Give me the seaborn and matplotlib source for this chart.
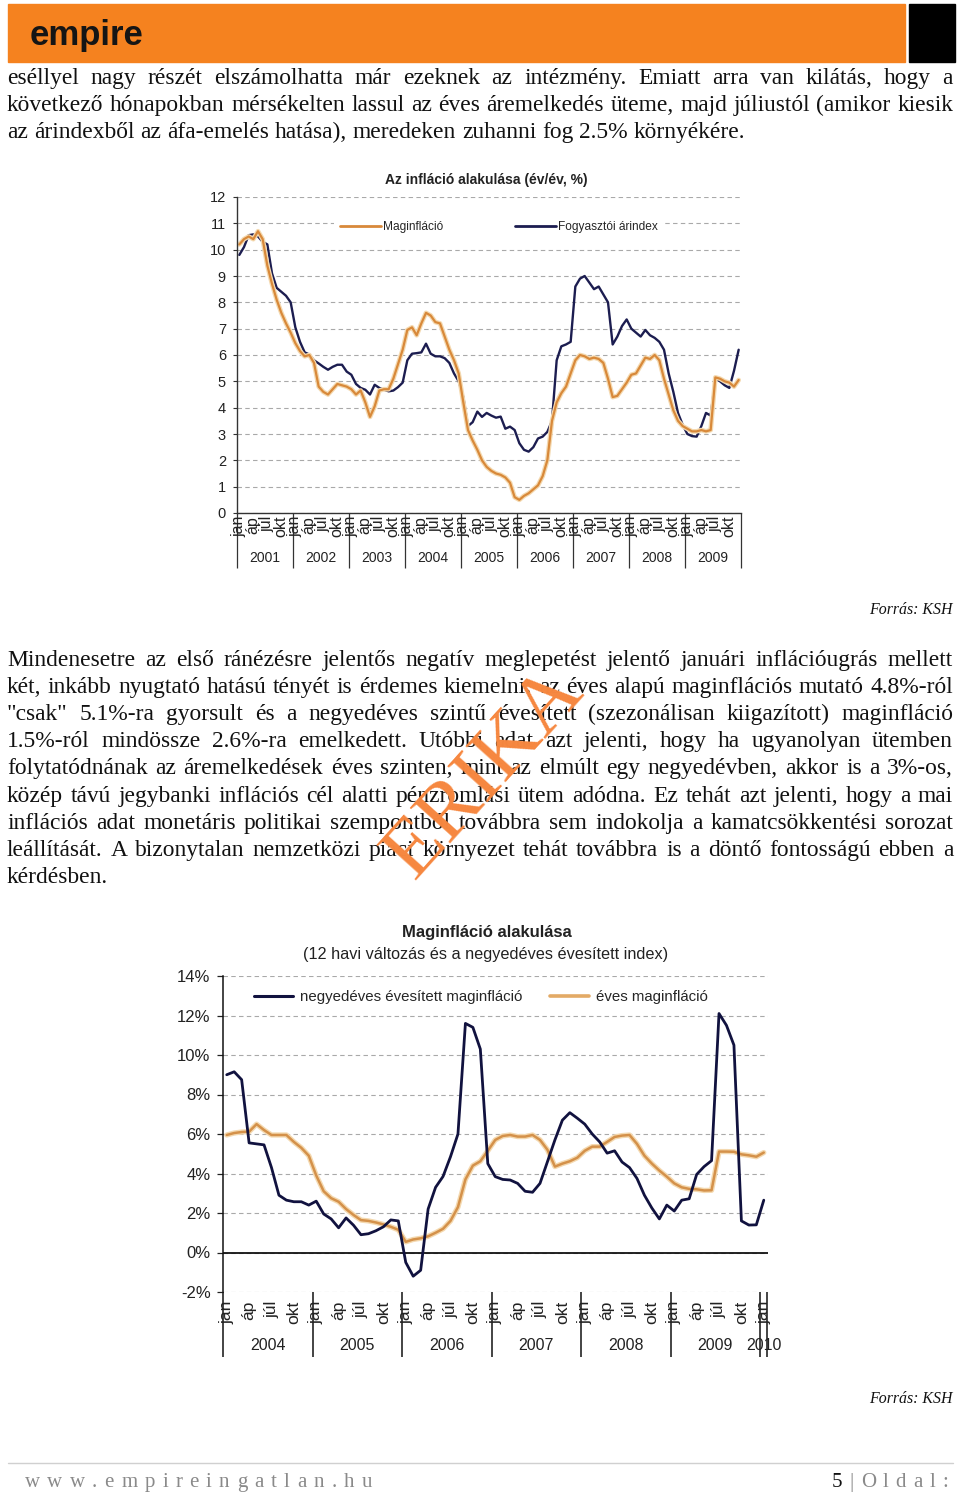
import numpy as np
import pandas as pd
import matplotlib
matplotlib.use("Agg")
import matplotlib.pyplot as plt
import matplotlib.transforms as mtransforms
from matplotlib.patches import Rectangle
from matplotlib.lines import Line2D
import seaborn as sns

# ---------------- data ----------------
month_labels = ["jan", "áp", "júl", "okt"]

top_years = [2001, 2002, 2003, 2004, 2005, 2006, 2007, 2008, 2009]
top_yticks = [0, 1, 2, 3, 4, 5, 6, 7, 8, 9, 10, 11, 12]
top_cpi = [
    9.8, 10.1, 10.55, 10.58, 10.5, 10.3, 10.2, 9.1, 8.55, 8.4, 8.25, 8.0,
    7.05, 6.5, 6.1, 6.02, 5.8, 5.68, 5.55, 5.44, 5.55, 5.63, 5.63, 5.37,
    5.25, 4.9, 4.75, 4.68, 4.5, 4.87, 4.75, 4.68, 4.62, 4.65, 4.78, 4.95,
    5.8, 6.05, 6.07, 6.1, 6.43, 6.05, 5.95, 5.95, 5.88, 5.7, 5.3, 5.0,
    4.4, 3.3, 3.45, 3.85, 3.65, 3.8, 3.7, 3.62, 3.66, 3.2, 3.28, 3.15,
    2.65, 2.4, 2.33, 2.5, 2.83, 2.9, 3.08, 3.5, 5.8, 6.33, 6.4, 6.5,
    8.6, 8.9, 9.0, 8.75, 8.5, 8.6, 8.3, 8.0, 6.4, 6.7, 7.1, 7.35,
    7.0, 6.85, 6.7, 6.95, 6.75, 6.65, 6.5, 6.2, 5.3, 4.6, 3.8, 3.35,
    3.0, 2.92, 2.9, 3.3, 3.8, 3.7, 5.1, 5.0, 4.85, 4.75, 5.4, 6.2,
]
top_core = [
    10.2, 10.4, 10.5, 10.4, 10.7, 10.4, 9.4, 8.7, 8.1, 7.6, 7.2, 6.85,
    6.45, 6.15, 5.95, 6.0, 5.7, 4.8, 4.6, 4.5, 4.7, 4.9, 4.85, 4.8,
    4.7, 4.5, 4.65, 4.2, 3.65, 4.05, 4.65, 4.7, 4.7, 5.1, 5.65, 6.2,
    6.95, 7.05, 6.75, 7.2, 7.6, 7.5, 7.25, 7.2, 6.7, 6.2, 5.8, 5.3,
    4.2, 3.15, 2.75, 2.4, 2.0, 1.75, 1.6, 1.5, 1.45, 1.35, 1.15, 0.6,
    0.5, 0.65, 0.75, 0.9, 1.05, 1.4, 2.0, 3.5, 4.2, 4.55, 4.8, 5.3,
    5.8, 6.0, 5.95, 5.85, 5.9, 5.85, 5.7, 5.1, 4.4, 4.45, 4.7, 4.95,
    5.25, 5.3, 5.6, 5.9, 5.85, 6.0, 5.8, 5.1, 4.5, 3.9, 3.5, 3.3,
    3.2, 3.1, 3.1, 3.15, 3.1, 3.15, 5.15, 5.1, 5.0, 4.95, 4.8, 5.05,
]

bot_years = [2004, 2005, 2006, 2007, 2008, 2009, 2010]
bot_yticks = [-2, 0, 2, 4, 6, 8, 10, 12, 14]
bot_ytick_labels = ["-2%", "0%", "2%", "4%", "6%", "8%", "10%", "12%", "14%"]
bot_quarterly = [
    9.0, 9.15, 8.75, 5.55, 5.5, 5.45, 4.3, 2.9, 2.65, 2.57, 2.57, 2.4,
    2.6, 1.95, 1.7, 1.25, 1.75, 1.38, 0.9, 0.95, 1.1, 1.3, 1.65, 1.6,
    -0.5, -1.2, -0.9, 2.2, 3.3, 3.85, 4.85, 6.0, 11.6, 11.4, 10.3, 4.5,
    3.84, 3.7, 3.67, 3.5, 3.1, 3.05, 3.5, 4.6, 5.7, 6.7, 7.08, 6.8,
    6.5, 6.0, 5.6, 5.03, 5.15, 4.58, 4.3, 3.75, 2.9, 2.25, 1.7, 2.4,
    2.1, 2.65, 2.72, 3.95, 4.35, 4.65, 12.1, 11.5, 10.5, 1.6, 1.39, 1.4,
    2.65,
]
bot_annual = [
    5.95, 6.05, 6.1, 6.12, 6.5, 6.2, 5.95, 5.95, 5.95, 5.6, 5.3, 4.9,
    3.9, 3.1, 2.75, 2.57, 2.2, 1.9, 1.64, 1.6, 1.52, 1.42, 1.3, 1.15,
    0.54, 0.66, 0.72, 0.82, 1.0, 1.2, 1.6, 2.3, 3.7, 4.4, 4.62, 5.15,
    5.7, 5.9, 5.95, 5.87, 5.87, 5.95, 5.7, 5.2, 4.35, 4.5, 4.62, 4.8,
    5.15, 5.36, 5.36, 5.6, 5.85, 5.92, 5.95, 5.5, 4.9, 4.5, 4.15, 3.84,
    3.5, 3.3, 3.22, 3.2, 3.14, 3.15, 5.11, 5.11, 5.1, 4.97, 4.92, 4.85,
    5.06,
]

para1 = [
    "eséllyel nagy részét elszámolhatta már ezeknek az intézmény. Emiatt arra van kilátás, hogy a",
    "következő hónapokban mérsékelten lassul az éves áremelkedés üteme, majd júliustól (amikor kiesik",
    "az árindexből az áfa-emelés hatása), meredeken zuhanni fog 2.5% környékére.",
]
para2 = [
    "Mindenesetre az első ránézésre jelentős negatív meglepetést jelentő januári inflációugrás mellett",
    "két, inkább nyugtató hatású tényét is érdemes kiemelni: az éves alapú maginflációs mutató 4.8%-ról",
    "\"csak\" 5.1%-ra gyorsult és a negyedéves szintű évesített (szezonálisan kiigazított) maginfláció",
    "1.5%-ról mindössze 2.6%-ra emelkedett. Utóbbi adat azt jelenti, hogy ha ugyanolyan ütemben",
    "folytatódnának az áremelkedések éves szinten, mint az elmúlt egy negyedévben, akkor is a 3%-os,",
    "közép távú jegybanki inflációs cél alatti pénzromlási ütem adódna. Ez tehát azt jelenti, hogy a mai",
    "inflációs adat monetáris politikai szempontból továbbra sem indokolja a kamatcsökkentési sorozat",
    "leállítását. A bizonytalan nemzetközi piaci környezet tehát továbbra is a döntő fontosságú ebben a",
    "kérdésben.",
]

# ---------------- style ----------------
sns.set_style("white")
plt.rcParams["font.family"] = ["Liberation Sans", "DejaVu Sans"]

W, H = 960, 1493
fig = plt.figure(figsize=(W / 100, H / 100), dpi=100)
renderer = fig.canvas.get_renderer()


def fx(p):
    return p / W


def fy(p):
    return 1 - p / H


SERIF = ["Liberation Serif", "DejaVu Serif"]
NAVY = "#1c1d50"
ORANGE = "#d8893a"
HALO = "#f4d9b0"
GRID = "#a9a9a9"


def place_tokens(tokens, base, x0, x1, size, justify=True, colors=None, family=SERIF, gap_px=None):
    texts = []
    widths = []
    for i, tok in enumerate(tokens):
        c = colors[i] if colors else "#111111"
        t = fig.text(0, fy(base), tok, fontsize=size, family=family, va="baseline", ha="left", color=c)
        texts.append(t)
        widths.append(t.get_window_extent(renderer).width)
    if justify and len(tokens) > 1:
        gap = (x1 - x0 - sum(widths)) / (len(tokens) - 1)
    else:
        gap = gap_px if gap_px is not None else size * 100 / 72 * 0.25
    x = x0
    for t, w in zip(texts, widths):
        t.set_x(fx(x))
        x += w + gap


# ---------------- header ----------------
fig.patches.append(Rectangle((fx(8), fy(62)), (905 - 8) / W, (62 - 4) / H,
                             transform=fig.transFigure, color="#f5821f", zorder=0))
fig.patches.append(Rectangle((fx(909), fy(62)), (955 - 909) / W, (62 - 4) / H,
                             transform=fig.transFigure, color="#000000", zorder=0))
fig.text(fx(30), fy(45), "empire", fontsize=25, fontweight="bold", color="#151515",
         va="baseline", ha="left", family=["Liberation Sans Narrow", "Liberation Sans"])

# ---------------- paragraphs ----------------
PSIZE = 16.9
for i, line in enumerate(para1):
    place_tokens(line.split(" "), 84 + 27 * i, 7, 953, PSIZE, justify=(i < len(para1) - 1))
for i, line in enumerate(para2):
    place_tokens(line.split(" "), 666 + 27.1 * i, 7, 953, PSIZE, justify=(i < len(para2) - 1))

fig.text(fx(953), fy(614), "Forrás: KSH", ha="right", va="baseline", fontsize=11.4,
         style="italic", family=SERIF, color="#111111")
fig.text(fx(953), fy(1403), "Forrás: KSH", ha="right", va="baseline", fontsize=11.4,
         style="italic", family=SERIF, color="#111111")

# ---------------- top chart ----------------
ax1 = fig.add_axes([fx(237), fy(513), (741 - 237) / W, (513 - 197) / H])
df1 = pd.DataFrame({"m": np.arange(len(top_cpi)), "cpi": top_cpi, "core": top_core})
sns.lineplot(data=df1, x="m", y="cpi", ax=ax1, color=NAVY, lw=1.7, legend=False)
sns.lineplot(data=df1, x="m", y="core", ax=ax1, color=HALO, lw=3.4, legend=False)
sns.lineplot(data=df1, x="m", y="core", ax=ax1, color=ORANGE, lw=1.6, legend=False)
ax1.set_xlim(-0.5, len(top_cpi) - 0.5)
ax1.set_ylim(0, 12)
ax1.set_yticks(top_yticks)
ax1.set_yticklabels([str(v) for v in top_yticks])
ax1.set_xlabel("")
ax1.set_ylabel("")
ax1.yaxis.grid(True, color=GRID, ls=(0, (4, 3)), lw=0.8)
ax1.xaxis.grid(False)
ax1.set_axisbelow(True)
for s in ["top", "right"]:
    ax1.spines[s].set_visible(False)
for s in ["left", "bottom"]:
    ax1.spines[s].set_color("#333333")
    ax1.spines[s].set_linewidth(1.0)
ax1.tick_params(axis="y", length=3, width=0.8, color="#333333", pad=5, labelsize=10.5,
                labelcolor="#222222", left=True)
bounds1 = list(np.arange(-0.5, len(top_cpi), 12))
ax1.set_xticks(bounds1)
ax1.set_xticklabels([""] * len(bounds1))
mpos1 = [y * 12 + k * 3 for y in range(len(top_years)) for k in range(4)]
ax1.set_xticks(mpos1, [month_labels[k] for y in range(len(top_years)) for k in range(4)], minor=True)
ax1.tick_params(axis="x", which="major", length=39.6, width=0.9, color="#333333", direction="out", bottom=True)
ax1.tick_params(axis="x", which="minor", length=0, pad=2, labelrotation=90, labelsize=11.5,
                labelcolor="#222222", bottom=True)
tr1 = mtransforms.blended_transform_factory(ax1.transData, ax1.transAxes)
for i, yr in enumerate(top_years):
    ax1.text(i * 12 + 5.5, -0.142, str(yr), transform=tr1, ha="center", va="center",
             fontsize=10, color="#222222")
h_core = Line2D([], [], color=ORANGE, lw=2)
h_cpi = Line2D([], [], color=NAVY, lw=2)
ax1.legend([h_core, h_cpi], ["Maginfláció", "Fogyasztói árindex"], loc="center",
           bbox_to_anchor=(0.52, 0.905), ncol=2, frameon=True, facecolor="white",
           edgecolor="none", framealpha=1, fontsize=8.6, handlelength=3.4,
           columnspacing=6.0, handletextpad=0.2, borderpad=0.5)
fig.text(fx(486), fy(180), "Az infláció alakulása (év/év, %)", ha="center", va="center",
         fontsize=10, fontweight="bold", color="#222222")

# ---------------- bottom chart ----------------
ax2 = fig.add_axes([fx(223), fy(1292), (767.5 - 223) / W, (1292 - 976) / H])
df2 = pd.DataFrame({"m": np.arange(len(bot_annual)), "q": bot_quarterly, "a": bot_annual})
sns.lineplot(data=df2, x="m", y="a", ax=ax2, color=HALO, lw=3.8, legend=False)
sns.lineplot(data=df2, x="m", y="a", ax=ax2, color="#d4914a", lw=1.8, legend=False)
sns.lineplot(data=df2, x="m", y="q", ax=ax2, color="#11123f", lw=2.0, legend=False)
ax2.axhline(0, color="#111111", lw=1.3, zorder=1.5)
ax2.set_xlim(-0.5, len(bot_annual) - 0.5)
ax2.set_ylim(-2, 14)
ax2.set_yticks(bot_yticks)
ax2.set_yticklabels(bot_ytick_labels)
ax2.set_xlabel("")
ax2.set_ylabel("")
ax2.yaxis.grid(True, color=GRID, ls=(0, (4, 3)), lw=0.8)
ax2.xaxis.grid(False)
ax2.set_axisbelow(True)
for s in ["top", "right", "bottom"]:
    ax2.spines[s].set_visible(False)
ax2.spines["left"].set_color("#111111")
ax2.spines["left"].set_linewidth(1.1)
ax2.tick_params(axis="y", length=4, width=0.9, color="#222222", pad=5, labelsize=12,
                labelcolor="#222222", left=True)
bounds2 = [-0.5, 11.5, 23.5, 35.5, 47.5, 59.5, 71.5, 72.5]
ax2.set_xticks(bounds2)
ax2.set_xticklabels([""] * len(bounds2))
mpos2 = [y * 12 + k * 3 for y in range(6) for k in range(4)] + [72]
mlab2 = [month_labels[k] for y in range(6) for k in range(4)] + ["jan"]
ax2.set_xticks(mpos2, mlab2, minor=True)
ax2.tick_params(axis="x", which="major", length=46.8, width=1.1, color="#111111", direction="out", bottom=True)
ax2.tick_params(axis="x", which="minor", length=0, pad=6, labelrotation=90, labelsize=12.5,
                labelcolor="#222222", bottom=True)
tr2 = mtransforms.blended_transform_factory(ax2.transData, ax2.transAxes)
for i, yr in enumerate(bot_years):
    xc = i * 12 + 5.5 if yr != 2010 else 72
    ax2.text(xc, -0.168, str(yr), transform=tr2, ha="center", va="center", fontsize=11.5,
             color="#222222")
h_q = Line2D([], [], color="#11123f", lw=2.2)
h_a = Line2D([], [], color="#e3aa66", lw=2.6)
ax2.legend([h_q, h_a], ["negyedéves évesített maginfláció", "éves maginfláció"], loc="center",
           bbox_to_anchor=(0.474, 0.934), ncol=2, frameon=True, facecolor="white",
           edgecolor="none", framealpha=1, fontsize=10.8, handlelength=2.6,
           columnspacing=1.8, handletextpad=0.5, borderpad=0.3)
fig.text(fx(487), fy(933), "Maginfláció alakulása", ha="center", va="center",
         fontsize=12, fontweight="bold", color="#222222")
fig.text(fx(486), fy(955), "(12 havi változás és a negyedéves évesített index)", ha="center",
         va="center", fontsize=11.7, color="#222222")

# ---------------- footer ----------------
fig.add_artist(Line2D([fx(8), fx(953)], [fy(1463), fy(1463)], color="#d0d0d0", lw=1,
                      transform=fig.transFigure))
place_tokens(list("www.empireingatlan.hu"), 1487, 25, 372, 15, justify=True,
             colors=["#8a8a8a"] * 21)
place_tokens(list("5|Oldal:"), 1487, 832, 948, 15, justify=True,
             colors=["#111111"] + ["#8a8a8a"] * 7)

# ---------------- watermark ----------------
fig.text(fx(485), fy(773), "ERIKA", rotation=48, rotation_mode="anchor", ha="center",
         va="center", fontsize=60, family=SERIF, color="#f6873f", zorder=10)

fig.savefig("out.png", dpi=100)
